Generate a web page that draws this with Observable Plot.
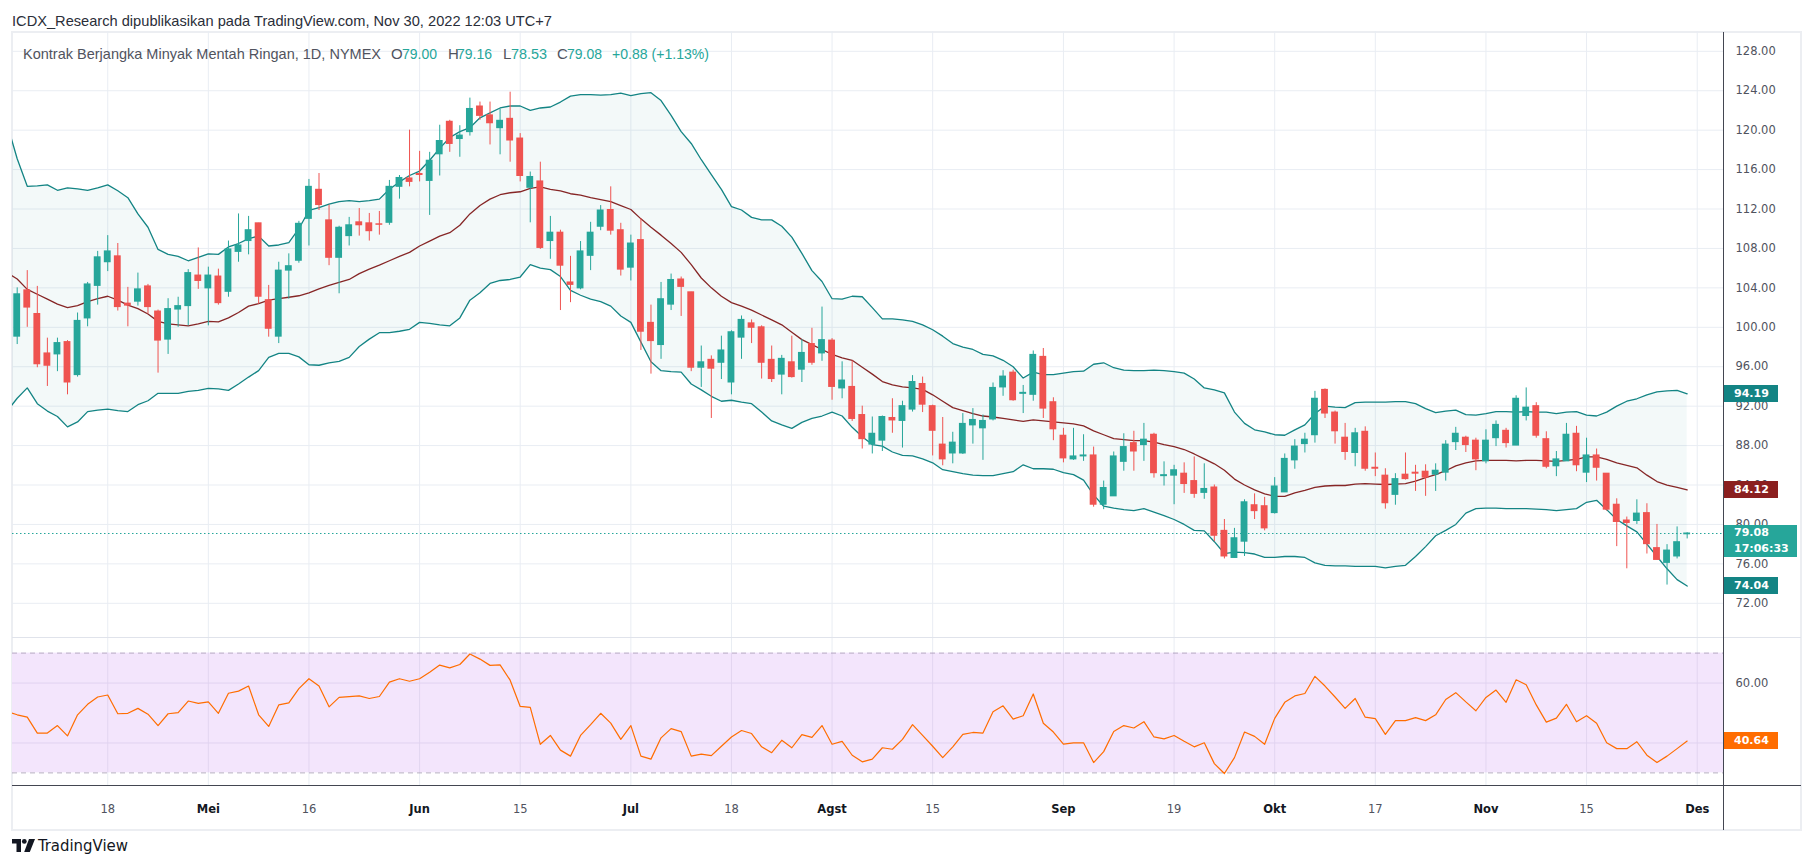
<!DOCTYPE html>
<html>
<head>
<meta charset="utf-8">
<script src="https://cdn.jsdelivr.net/npm/d3@7"></script>
<script src="https://cdn.jsdelivr.net/npm/@observablehq/plot@0.6"></script>
<style>
  html, body { margin: 0; padding: 0; background: #ffffff; }
  #root { position: relative; width: 1813px; height: 866px; overflow: hidden; background: #ffffff; }
  .tag { position: absolute; color: #ffffff; font: bold 11px "DejaVu Sans", sans-serif; box-sizing: border-box; padding-left: 10px; white-space: nowrap; }
</style>
</head>
<body>
<div id="root"></div>
<script>
// ---------------- DATA ----------------
// trading days (2022), Apr 1 .. Nov 30, plus Dec 1 slot for the last axis tick
const dates = ("04-01 04-04 04-05 04-06 04-07 04-08 04-11 04-12 04-13 04-14 04-18 04-19 04-20 04-21 04-22 04-25 04-26 04-27 04-28 04-29 " +
"05-02 05-03 05-04 05-05 05-06 05-09 05-10 05-11 05-12 05-13 05-16 05-17 05-18 05-19 05-20 05-23 05-24 05-25 05-26 05-27 05-31 " +
"06-01 06-02 06-03 06-06 06-07 06-08 06-09 06-10 06-13 06-14 06-15 06-16 06-17 06-21 06-22 06-23 06-24 06-27 06-28 06-29 06-30 " +
"07-01 07-05 07-06 07-07 07-08 07-11 07-12 07-13 07-14 07-15 07-18 07-19 07-20 07-21 07-22 07-25 07-26 07-27 07-28 07-29 " +
"08-01 08-02 08-03 08-04 08-05 08-08 08-09 08-10 08-11 08-12 08-15 08-16 08-17 08-18 08-19 08-22 08-23 08-24 08-25 08-26 08-29 08-30 08-31 " +
"09-01 09-02 09-06 09-07 09-08 09-09 09-12 09-13 09-14 09-15 09-16 09-19 09-20 09-21 09-22 09-23 09-26 09-27 09-28 09-29 09-30 " +
"10-03 10-04 10-05 10-06 10-07 10-10 10-11 10-12 10-13 10-14 10-17 10-18 10-19 10-20 10-21 10-24 10-25 10-26 10-27 10-28 10-31 " +
"11-01 11-02 11-03 11-04 11-07 11-08 11-09 11-10 11-11 11-14 11-15 11-16 11-17 11-18 11-21 11-22 11-23 11-25 11-28 11-29 11-30 12-01").split(" ");

// candles from Apr 4 (dates[1]) to Nov 30 (dates[167])
const open = [
99.05,103.75,101.35,97.35,97.25,98.5,95.15,100.9,104.2,106.6,
107.2,102.4,102.6,104.15,101.6,98.75,101.8,102.15,105.25,103.95,
105.15,103.6,107.65,108.75,110.55,102.75,99.05,105.75,106.75,111.0,
113.95,110.85,107.05,109.25,110.65,110.55,110.45,110.6,114.25,115.1,
115.55,114.85,117.55,120.85,119.1,119.8,122.4,121.5,120.2,121.15,
119.15,114.15,114.8,108.75,109.6,104.55,103.95,107.25,110.2,111.9,
109.85,106.05,108.85,100.45,98.2,102.3,104.85,103.55,95.9,96.7,
96.4,94.4,98.95,100.4,100.0,96.7,95.2,96.45,95.7,98.3,
97.35,98.65,93.8,93.95,91.1,88.1,88.5,90.8,90.5,91.65,
94.25,92.0,88.1,87.2,87.2,90.05,89.75,90.65,93.9,95.4,
93.25,93.15,97.0,92.4,89.0,86.6,86.9,87.0,82.0,82.85,
86.35,88.25,88.05,89.1,84.9,84.95,85.15,84.4,83.2,83.75,
79.35,76.6,78.25,81.95,81.85,81.15,83.25,86.5,88.15,89.05,
93.65,91.35,88.8,87.25,89.4,85.75,84.95,83.0,85.05,85.25,
85.35,85.05,85.25,88.35,88.8,88.5,86.4,88.75,89.5,88.0,
91.0,92.0,88.65,85.9,86.4,89.2,85.25,87.0,85.15,82.0,
80.4,80.35,81.15,77.6,76.1,76.75,79.0];
const high = [
104.0,105.75,104.15,98.9,98.9,98.65,101.45,104.55,107.7,109.3,
108.5,104.05,105.5,104.35,101.75,102.9,103.05,105.85,108.05,106.1,
105.9,108.75,111.5,111.25,110.55,104.25,106.6,107.45,110.75,115.0,
115.6,112.4,110.25,111.15,112.05,111.55,111.75,114.9,115.4,120.0,
117.85,117.75,120.5,121.0,120.45,123.25,122.85,122.85,122.15,123.85,
119.65,115.75,116.75,111.25,109.85,107.2,108.7,110.65,112.35,114.25,
110.55,109.35,111.0,102.25,104.55,105.4,105.1,103.55,98.1,97.1,
99.1,99.65,101.15,100.75,100.15,98.1,97.15,99.1,98.75,99.9,
102.05,98.85,96.5,96.6,92.0,90.9,91.0,92.75,92.5,95.1,
94.95,92.1,90.85,89.35,91.25,91.75,91.1,94.35,95.6,95.65,
94.1,97.6,97.85,92.85,89.75,89.75,89.1,87.85,84.4,87.35,
89.2,89.45,90.25,89.25,86.35,86.0,86.25,86.85,86.15,84.0,
80.5,79.6,82.5,83.1,82.75,84.75,87.15,88.6,89.25,93.5,
93.75,91.5,90.25,89.75,89.9,87.25,85.65,85.15,87.25,86.0,
86.05,86.15,88.5,89.85,88.95,88.75,89.6,90.5,89.75,93.05,
93.85,92.35,89.4,87.4,90.25,89.95,88.75,87.65,85.15,82.6,
80.75,82.5,82.1,80.0,77.95,79.75,79.16];
const low = [
98.25,100.0,95.9,94.0,95.5,93.15,94.95,100.05,102.25,105.65,
101.65,100.05,102.15,101.35,95.35,97.25,100.0,100.15,103.85,100.15,
102.25,103.05,106.6,107.35,102.35,99.0,98.35,102.85,106.5,108.25,
111.85,106.25,103.4,108.25,109.25,108.75,109.35,110.35,113.0,114.25,
114.75,111.35,115.35,117.75,117.25,119.4,121.0,118.5,117.5,116.75,
114.75,110.6,107.9,106.9,101.7,102.5,103.8,105.75,109.8,109.35,
105.2,104.7,97.65,95.25,96.75,101.7,101.1,95.5,93.9,90.75,
94.7,93.15,96.75,98.35,94.75,94.4,93.15,94.85,94.4,96.15,
96.55,92.6,92.75,90.45,87.65,87.15,87.4,89.25,87.75,91.4,
91.35,86.95,85.95,86.15,87.1,88.15,86.5,90.5,93.0,92.5,
91.25,92.5,90.75,88.5,86.25,86.5,86.4,81.75,81.5,82.85,
85.4,85.4,86.4,84.7,83.9,82.0,83.15,82.65,82.55,78.25,
76.5,76.6,76.75,80.5,79.35,81.05,83.25,85.6,87.25,88.25,
90.75,88.15,86.5,85.85,85.4,84.85,81.55,81.95,84.5,83.35,
82.85,83.35,84.4,87.5,87.3,85.45,86.15,87.9,87.75,88.0,
90.5,88.75,85.65,84.85,86.4,85.35,84.25,84.4,81.35,77.75,
75.5,80.0,77.0,76.4,73.85,76.5,78.53];
const close = [
103.35,102.0,96.25,96.1,98.4,94.4,100.65,104.35,107.1,107.7,
102.05,102.2,103.85,102.05,98.65,101.85,102.15,105.5,104.7,105.25,
102.45,107.9,108.3,109.85,103.1,99.85,105.75,106.2,110.5,114.25,
112.4,107.05,110.1,110.35,110.35,109.75,110.4,114.25,115.15,114.75,
115.45,116.9,118.9,118.6,119.45,122.15,121.45,120.7,120.95,118.95,
115.35,115.25,108.05,109.6,106.25,104.3,107.7,109.6,111.85,109.8,
105.85,108.5,99.55,98.6,102.85,104.8,104.1,95.9,96.45,95.8,
97.65,99.5,100.75,99.95,96.4,94.75,96.8,94.95,97.4,96.4,
98.7,93.95,94.6,90.7,88.65,89.2,90.9,90.55,92.0,94.45,
92.15,89.5,86.6,88.3,90.2,90.6,90.5,93.85,95.0,92.6,
93.35,97.2,91.75,89.65,86.7,86.9,87.0,82.0,83.7,86.9,
87.85,87.4,88.6,85.2,85.0,85.5,84.1,83.1,83.6,78.85,
76.75,78.6,82.25,81.35,79.6,83.85,86.65,87.9,88.6,92.75,
91.25,89.45,87.35,89.25,85.65,85.65,82.15,84.6,84.6,85.15,
84.75,85.45,88.1,89.2,88.05,86.6,88.5,90.1,88.25,92.75,
91.85,89.0,85.85,86.6,89.1,86.0,87.0,85.75,81.5,80.25,
80.15,81.1,78.0,76.4,77.35,78.2,79.08];

// Bollinger bands (20) and RSI (14), Apr 1 (dates[0]) .. Nov 30 (dates[167])
const bbUpper = [
120.6,117.1,114.3,114.35,114.45,113.9,114.15,114.05,113.9,114.15,
114.45,113.85,113.15,111.5,110.15,107.9,107.4,107.2,106.75,107.1,
107.45,107.4,108.15,108.5,109.0,109.25,108.25,108.35,108.6,110.0,
111.85,112.15,112.5,112.75,112.85,112.75,112.85,113.0,114.0,114.75,
115.4,115.85,116.95,118.15,119.25,119.85,120.25,121.25,121.75,122.25,
122.45,122.45,122.0,122.25,122.35,122.85,123.45,123.6,123.6,123.55,
123.6,123.75,123.5,123.7,123.8,123.0,121.5,119.85,118.65,117.0,
115.5,114.0,112.25,111.9,111.15,110.9,110.9,110.25,109.15,107.5,
105.75,104.65,102.9,102.85,103.15,103.1,102.0,100.85,100.85,100.75,
100.6,100.25,99.75,99.1,98.35,98.0,97.75,97.25,97.1,96.65,
96.0,94.85,95.45,95.2,95.2,95.35,95.5,95.55,96.25,96.4,
95.9,95.65,95.6,95.6,95.65,95.6,95.5,95.35,94.75,93.85,
93.65,93.35,91.4,90.25,89.6,89.4,89.1,89.05,89.6,90.1,
91.25,92.0,91.9,91.85,92.35,92.4,92.4,92.4,92.45,92.45,
92.25,91.75,91.35,91.5,91.6,91.15,91.1,91.25,91.45,91.45,
91.4,91.45,91.4,91.4,91.25,91.4,91.45,91.1,91.0,91.4,
92.0,92.5,92.75,93.15,93.45,93.55,93.6,93.25];
const bbBasis = [
105.55,104.9,103.85,103.35,102.85,102.35,102.0,102.2,102.6,102.9,
103.15,102.75,102.25,101.9,101.35,100.6,100.35,100.25,100.15,100.35,
100.6,100.55,100.95,101.5,102.15,102.4,102.75,102.9,103.05,103.2,
103.5,103.9,104.25,104.55,104.85,105.45,105.9,106.3,106.75,107.2,
107.6,108.25,108.75,109.25,109.6,110.35,111.5,112.35,113.0,113.45,
113.65,113.75,114.1,114.25,114.0,113.85,113.55,113.4,113.15,112.95,
112.75,112.35,111.95,111.0,110.15,109.35,108.5,107.6,106.35,105.0,
104.0,103.15,102.5,102.15,101.75,101.25,100.75,100.25,99.5,98.75,
98.25,97.75,97.25,96.9,96.65,95.95,95.25,94.5,94.15,93.95,
93.85,93.7,93.15,92.5,91.85,91.55,91.25,91.0,90.9,90.75,
90.6,90.45,90.6,90.5,90.4,90.3,90.2,90.0,89.5,89.1,
88.7,88.6,88.5,88.5,88.35,88.1,87.9,87.6,87.15,86.65,
86.15,85.5,84.6,84.0,83.5,83.1,82.85,82.85,83.2,83.45,
83.75,83.9,83.95,83.95,84.1,84.15,84.1,84.05,84.1,84.15,
84.4,84.75,85.05,85.45,85.95,86.25,86.45,86.5,86.5,86.5,
86.45,86.5,86.5,86.45,86.4,86.5,86.6,86.85,86.85,86.6,
86.25,86.0,85.75,85.0,84.35,84.0,83.75,83.5];
const bbLower = [
91.5,92.8,93.85,92.25,91.5,90.95,89.9,90.4,91.45,91.6,
91.7,91.55,91.45,92.15,92.55,93.3,93.3,93.3,93.5,93.6,
93.8,93.75,93.6,94.25,94.95,95.6,96.95,97.35,97.35,97.0,
96.2,96.15,96.4,96.55,96.95,98.05,98.8,99.45,99.45,99.6,
99.8,100.5,100.4,100.25,100.15,100.95,102.75,103.5,104.45,104.75,
104.85,105.1,106.35,106.0,105.85,105.15,103.75,103.25,102.85,102.6,
102.15,101.15,100.5,98.5,96.5,95.6,95.5,95.45,94.25,93.65,
93.0,92.5,92.6,92.4,92.25,91.4,90.5,90.1,89.75,90.35,
90.75,91.0,91.4,91.0,89.85,88.9,88.1,87.95,87.35,87.0,
86.95,86.65,86.25,85.55,85.35,85.15,85.0,84.95,84.95,85.15,
85.35,86.05,85.65,85.65,85.6,85.25,85.05,84.5,83.0,81.85,
81.65,81.5,81.4,81.6,81.25,80.9,80.5,80.0,79.4,79.35,
78.25,77.05,77.2,77.15,77.0,76.65,76.65,76.75,76.75,76.65,
76.1,75.85,75.8,75.8,75.75,75.75,75.75,75.6,75.75,75.85,
76.75,77.75,78.85,79.4,80.0,81.15,81.6,81.65,81.65,81.6,
81.6,81.6,81.55,81.5,81.4,81.5,81.6,82.25,82.45,81.5,
80.5,79.85,79.25,78.0,76.75,75.5,74.4,73.75];
const rsi = [
50.4,49.4,48.6,43.3,43.3,45.8,42.35,49.4,52.9,55.35,
56.0,49.75,49.9,51.55,49.6,45.8,49.75,50.1,54.0,53.2,
53.7,49.9,56.6,57.3,59.0,49.4,45.5,52.7,53.4,58.15,
61.45,59.0,52.05,55.2,55.5,55.7,54.85,55.5,60.3,61.45,
60.6,61.45,63.6,66.0,65.05,66.2,69.7,68.0,65.9,66.05,
60.95,52.2,51.9,39.55,42.5,37.6,35.6,42.5,46.1,49.9,
46.6,41.2,45.8,35.6,34.6,41.7,44.8,43.8,35.6,36.25,
35.75,38.9,42.0,44.15,43.15,38.7,36.75,40.9,38.4,42.8,
41.85,45.8,39.55,40.55,35.9,33.7,34.6,38.4,37.9,41.2,
46.1,42.5,38.9,35.1,38.7,42.85,43.5,43.3,50.4,52.4,
47.95,49.1,56.35,46.6,43.65,39.6,40.05,40.05,33.45,37.1,
43.85,45.8,45.0,47.1,42.0,41.35,42.5,40.55,38.7,40.05,
33.1,29.8,35.1,43.65,42.2,39.55,48.2,53.55,55.7,56.5,
62.25,59.0,55.35,51.55,54.85,48.6,48.1,42.85,47.45,47.45,
48.45,47.45,49.4,54.5,56.8,53.7,50.75,55.2,57.65,53.55,
61.1,59.45,52.7,46.95,48.3,52.9,47.1,49.1,46.6,40.05,
38.1,38.1,40.4,35.9,33.45,35.6,38.1,40.64];

// axis ticks and labels
const tickDates  = ["04-18","05-02","05-16","06-01","06-15","07-01","07-18","08-01","08-15","09-01","09-19","10-03","10-17","11-01","11-15","12-01"];
const tickLabels = ["18","Mei","16","Jun","15","Jul","18","Agst","15","Sep","19","Okt","17","Nov","15","Des"];
const priceTicks = [72,76,80,84,88,92,96,100,104,108,112,116,120,124,128];
const rsiTicks = [60, 40];
const rsiLevels = [30, 70];

// header / legend / last-value tags
const headerText = "ICDX_Research dipublikasikan pada TradingView.com, Nov 30, 2022 12:03 UTC+7";
const symbolText = "Kontrak Berjangka Minyak Mentah Ringan, 1D, NYMEX";
const changeText = "+0.88 (+1.13%)";
const bandTags = ["94.19", "84.12", "74.04"];
const closeTag = ["79.08", "17:06:33"];
const rsiTag = "40.64";

// ---------------- BUILD ----------------
const UP = "#26a69a", DOWN = "#ef5350", GRID = "#e9edf3", BAND = "#138484", BASIS = "#862626", RSI_C = "#ff6d00";
const root = document.getElementById("root");

const candles = open.map((o, k) => ({i: k + 1, o, h: high[k], l: low[k], c: close[k]}));
const ind = bbUpper.map((u, k) => ({i: k, u, m: bbBasis[k], lo: bbLower[k], r: rsi[k]}));
const ticks = tickDates.map((d, k) => ({pos: dates.indexOf(d), label: tickLabels[k], month: isNaN(+tickLabels[k])}));
const tickPos = ticks.map(t => t.pos);
const last = candles[candles.length - 1];

// layout (px)
const L = 12, TOP = 31, RIGHT = 1801, AXIS_X = 1723;
const PW = RIGHT - L, MR = RIGHT - AXIS_X;
const PRICE_H = 606, RSI_TOP = 637, RSI_H = 148, TIME_TOP = 785, BOTTOM = 830;
const xOpt = {type: "linear", domain: [0, 170], range: [-5.36, 1704.84], axis: null};
const baseStyle = {fontFamily: "'DejaVu Sans', sans-serif", fontSize: "11.5px", color: "#50535e", background: "none", overflow: "visible"};

function box(left, top, w, h, css) {
  const e = document.createElement("div");
  Object.assign(e.style, {position: "absolute", left: left + "px", top: top + "px", width: w + "px", height: h + "px"}, css || {});
  root.appendChild(e);
  return e;
}
function mount(svg, left, top) {
  const wrap = document.createElement("div");
  Object.assign(wrap.style, {position: "absolute", left: left + "px", top: top + "px"});
  wrap.appendChild(svg);
  root.appendChild(wrap);
}

// outer frame
box(L - 1, TOP, PW + 2, BOTTOM - TOP + 1, {border: "2px solid #eceef2", boxSizing: "border-box"});

// price pane
const price = Plot.plot({
  width: PW, height: PRICE_H, marginLeft: 0, marginRight: MR, marginTop: 0, marginBottom: 0,
  x: xOpt,
  y: {domain: [72, 128], range: [571.8, 19.8], axis: null},
  style: baseStyle,
  marks: [
    Plot.ruleX(tickPos, {stroke: GRID}),
    Plot.ruleY(priceTicks, {stroke: GRID}),
    Plot.areaY(ind, {x: "i", y1: "lo", y2: "u", fill: BAND, fillOpacity: 0.05, clip: true}),
    Plot.lineY(ind, {x: "i", y: "u", stroke: BAND, strokeWidth: 1.3, clip: true}),
    Plot.lineY(ind, {x: "i", y: "lo", stroke: BAND, strokeWidth: 1.3, clip: true}),
    Plot.lineY(ind, {x: "i", y: "m", stroke: BASIS, strokeWidth: 1.3, clip: true}),
    Plot.ruleY([last.c], {stroke: UP, strokeDasharray: "1.5,2.5", strokeWidth: 1}),
    Plot.ruleX(candles, {x: "i", y1: "l", y2: "h", stroke: d => d.c >= d.o ? UP : DOWN, strokeWidth: 1}),
    Plot.rect(candles, {x1: d => d.i - 0.34, x2: d => d.i + 0.34, y1: "o", y2: "c",
      fill: d => d.c >= d.o ? UP : DOWN, insetTop: -0.5, insetBottom: -0.5}),
    Plot.axisY(priceTicks, {anchor: "right", tickSize: 0, tickPadding: 12, tickFormat: d3.format(".2f"), label: null})
  ]
});
mount(price, L, TOP);

// RSI pane
const rsiPlot = Plot.plot({
  width: PW, height: RSI_H, marginLeft: 0, marginRight: MR, marginTop: 0, marginBottom: 0,
  x: xOpt,
  y: {domain: [30, 70], range: [135.4, 15.6], axis: null},
  style: baseStyle,
  marks: [
    Plot.ruleX(tickPos, {stroke: GRID}),
    Plot.rect([rsiLevels], {y1: d => d[0], y2: d => d[1], fill: "#f3e5fc"}),
    Plot.ruleX(tickPos, {y1: 30, y2: 70, stroke: "#e2d5f0"}),
    Plot.ruleY(rsiTicks, {stroke: "#e0d2f0"}),
    Plot.ruleY(rsiLevels, {stroke: "#a69cb4", strokeOpacity: 0.8, strokeDasharray: "5,4"}),
    Plot.lineY(ind, {x: "i", y: "r", stroke: RSI_C, strokeWidth: 1.2, clip: true}),
    Plot.axisY(rsiTicks, {anchor: "right", tickSize: 0, tickPadding: 12, tickFormat: d3.format(".2f"), label: null})
  ]
});
mount(rsiPlot, L, RSI_TOP);

// time axis
const timePlot = Plot.plot({
  width: PW, height: BOTTOM - TIME_TOP, marginLeft: 0, marginRight: MR, marginTop: 0, marginBottom: 0,
  x: xOpt,
  style: baseStyle,
  marks: [
    Plot.text(ticks.filter(t => !t.month), {x: "pos", text: "label", frameAnchor: "top", dy: 19, fill: "#50535e", fontSize: 11.5}),
    Plot.text(ticks.filter(t => t.month), {x: "pos", text: "label", frameAnchor: "top", dy: 19, fill: "#131722", fontSize: 11.5, fontWeight: "bold"})
  ]
});
mount(timePlot, L, TIME_TOP);

// pane separators and price-scale border
box(L, RSI_TOP, PW, 1, {background: "#e0e3eb"});
box(L, TIME_TOP, PW, 1, {background: "#434651"});
box(AXIS_X, TOP + 1, 1, BOTTOM - TOP - 1, {background: "#434651"});

// last value tags, placed through the panes' y scales
function tag(plot, top, v, lines, bg, w) {
  const y = top + plot.scale("y").apply(v);
  const h = lines.length > 1 ? 32 : 17;
  const e = box(AXIS_X + 1, y - 8.5, w, h, {background: bg});
  e.className = "tag";
  e.style.lineHeight = (lines.length > 1 ? 16 : 17) + "px";
  e.innerHTML = lines.join("<br>");
}
const lastInd = ind[ind.length - 1];
tag(price, TOP, lastInd.u, [bandTags[0]], BAND, 54);
tag(price, TOP, lastInd.m, [bandTags[1]], "#8b1f1f", 54);
tag(price, TOP, last.c, closeTag, UP, 73);
tag(price, TOP, lastInd.lo, [bandTags[2]], BAND, 54);
tag(rsiPlot, RSI_TOP, lastInd.r, [rsiTag], RSI_C, 54);

// header, legend and footer text
const f2 = d3.format(".2f");
const SANS = "'Liberation Sans','DejaVu Sans',sans-serif";
const NARROW = "'Liberation Sans Narrow','DejaVu Sans Condensed',sans-serif";
const ov = document.createElementNS("http://www.w3.org/2000/svg", "svg");
ov.setAttribute("width", 1813); ov.setAttribute("height", 866);
Object.assign(ov.style, {position: "absolute", left: "0px", top: "0px", pointerEvents: "none"});
const GRAYTXT = "#50535e";
const parts = [
  {x: 23, w: 358, t: symbolText, c: GRAYTXT},
  {x: 391, t: "O", c: GRAYTXT}, {x: 402, w: 35, t: f2(last.o), c: UP},
  {x: 448, t: "H", c: GRAYTXT}, {x: 457, w: 35, t: f2(last.h), c: UP},
  {x: 503, t: "L", c: GRAYTXT}, {x: 511, w: 36, t: f2(last.l), c: UP},
  {x: 557, t: "C", c: GRAYTXT}, {x: 567, w: 35, t: f2(last.c), c: UP},
  {x: 612, w: 97, t: changeText, c: UP}
];
let html = `<text x="12" y="26" font-family="${SANS}" font-size="15" fill="#2a2e39" textLength="540" lengthAdjust="spacingAndGlyphs">${headerText}</text>`;
for (const p of parts) {
  html += `<text x="${p.x}" y="59" font-family="${SANS}" font-size="15" fill="${p.c}"` +
    (p.w ? ` textLength="${p.w}" lengthAdjust="spacingAndGlyphs"` : "") + `>${p.t}</text>`;
}
html += `<g transform="translate(12,839)" fill="#131722"><path d="M0 0H9V13H4.5V4.5H0Z"/><circle cx="12.3" cy="2.4" r="2.4"/><path d="M17 0H23L17.8 13H12.2Z"/></g>`;
html += `<text x="38" y="851" font-family="${NARROW}" font-size="15" fill="#131722" textLength="90" lengthAdjust="spacingAndGlyphs">TradingView</text>`;
ov.innerHTML = html;
root.appendChild(ov);
</script>
</body>
</html>
